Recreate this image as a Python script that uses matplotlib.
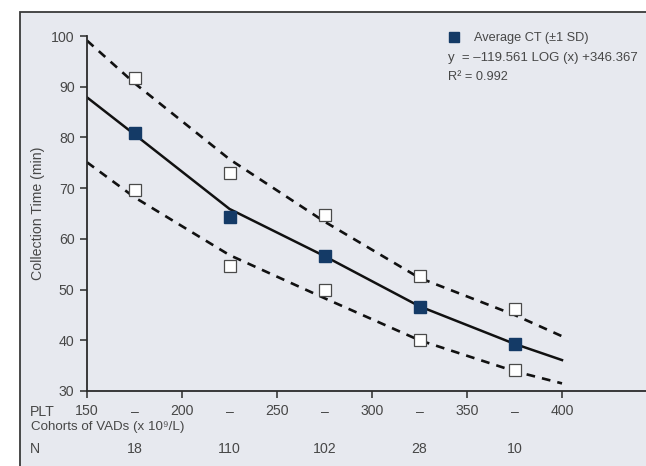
"""Collection time vs platelet count cohorts, with ±1 SD bands -> out.png"""
import matplotlib
matplotlib.use("Agg")
import matplotlib.pyplot as plt
from matplotlib.lines import Line2D
from matplotlib.patches import Rectangle
from matplotlib.transforms import blended_transform_factory

# --- data ------------------------------------------------------------------
cohort_x = [175, 225, 275, 325, 375]
cohort_n = ["18", "110", "102", "28", "10"]
mean_ct = [80.9, 64.3, 56.6, 46.6, 39.3]
upper_sd = [91.7, 73.0, 64.8, 52.7, 46.1]
lower_sd = [69.7, 54.6, 50.0, 40.0, 34.1]

fit_x = [150, 175, 225, 275, 325, 375, 400]
fit_mean = [87.9, 80.6, 65.9, 56.6, 46.7, 39.3, 36.1]
fit_upper = [99.1, 90.7, 75.7, 63.4, 52.3, 45.0, 40.8]
fit_lower = [75.1, 68.2, 56.8, 48.3, 40.0, 33.9, 31.5]

plt_ticks = [150, 200, 250, 300, 350, 400]
dash_ticks = [175, 225, 275, 325, 375]
y_ticks = [30, 40, 50, 60, 70, 80, 90, 100]

# --- style -------------------------------------------------------------------
BG = "#e7e9ef"
NAVY = "#143a66"
TXT = "#474747"
NARROW = ["Liberation Sans Narrow", "Liberation Sans", "DejaVu Sans"]
plt.rcParams.update({"font.family": ["Liberation Sans", "DejaVu Sans"],
                     "font.size": 9.6})

W, H = 646, 466
fig = plt.figure(figsize=(W / 100, H / 100), dpi=100)
fig.patch.set_facecolor("white")
fig.patches.append(Rectangle((20 / W, -0.05), 1.0, 1.05 - 11.7 / H,
                             transform=fig.transFigure, facecolor=BG,
                             edgecolor="#3a3a3a", linewidth=1.3, zorder=-5))

ax = fig.add_axes([87 / W, 1 - 391 / H, (W - 87) / W, (391 - 36) / H])
ax.set_zorder(2)
ax.patch.set_visible(False)
ax.set_xlim(150, 150 + (W - 87) / 1.9)
ax.set_ylim(30, 100)

for s in ("top", "right"):
    ax.spines[s].set_visible(False)
for s in ("left", "bottom"):
    ax.spines[s].set_color("#2b2b2b")
    ax.spines[s].set_linewidth(1.3)

# fitted curves
ax.plot(fit_x, fit_mean, color="#111111", lw=1.8, zorder=2)
ax.plot(fit_x, fit_upper, color="#111111", lw=1.9, dashes=(3.3, 2.7), zorder=2)
ax.plot(fit_x, fit_lower, color="#111111", lw=1.9, dashes=(3.3, 2.7), zorder=2)

# data points
for ys in (upper_sd, lower_sd):
    ax.plot(cohort_x, ys, ls="none", marker="s", ms=8, mfc="white",
            mec="#4a4a4a", mew=0.9, zorder=3)
ax.plot(cohort_x, mean_ct, ls="none", marker="s", ms=8, mfc=NAVY,
        mec=NAVY, zorder=4)

# ticks
ax.set_yticks(y_ticks)
ax.tick_params(axis="y", direction="out", length=5, width=1.1, pad=4,
               colors="#2b2b2b", labelcolor=TXT)
ax.set_xticks(plt_ticks)
ax.set_xticks(dash_ticks, ["–"] * len(dash_ticks), minor=True)
ax.tick_params(axis="x", which="major", direction="out", length=5, width=1.1,
               pad=4.5, colors="#2b2b2b", labelcolor=TXT)
ax.tick_params(axis="x", which="minor", length=0, pad=9.8, labelcolor=TXT)
for lab in ax.get_xticklabels() + ax.get_yticklabels() + \
        ax.get_xticklabels(minor=True):
    lab.set_family(NARROW)
    lab.set_fontsize(10.2)

# row captions below the axis
fig.text(30 / W, 1 - 412 / H, "PLT", ha="left", va="center", color=TXT,
         family=NARROW, fontsize=10.2)
fig.text(31 / W, 1 - 427 / H, "Cohorts of VADs (x 10⁹/L)", ha="left",
         va="center", color=TXT)
fig.text(30 / W, 1 - 449 / H, "N", ha="left", va="center", color=TXT,
         family=NARROW, fontsize=10.2)
tr = blended_transform_factory(ax.transData, fig.transFigure)
for x, n in zip(cohort_x, cohort_n):
    ax.text(x, 1 - 449 / H, n, transform=tr, ha="center", va="center",
            color=TXT, clip_on=False, family=NARROW, fontsize=10.2)

fig.text(38 / W, 1 - 213 / H, "Collection Time (min)", rotation=90,
         ha="center", va="center", color=TXT, fontsize=10.2)

# legend + regression text
handle = Line2D([], [], ls="none", marker="s", ms=7, mfc=NAVY, mec=NAVY)
fig.legend([handle], ["Average CT (±1 SD)"], loc="center left",
           bbox_to_anchor=(441 / W, 1 - 38 / H), frameon=False,
           handlelength=1.0, handletextpad=1.1, borderpad=0,
           labelcolor=TXT, fontsize=9.2)
fig.text(448 / W, 1 - 58 / H, "y  = –119.561 LOG (x) +346.367",
         ha="left", va="center", color=TXT, fontsize=9.5)
fig.text(448 / W, 1 - 77 / H, "R² = 0.992", ha="left", va="center",
         color=TXT, fontsize=9.2)

fig.savefig("out.png", dpi=100)
